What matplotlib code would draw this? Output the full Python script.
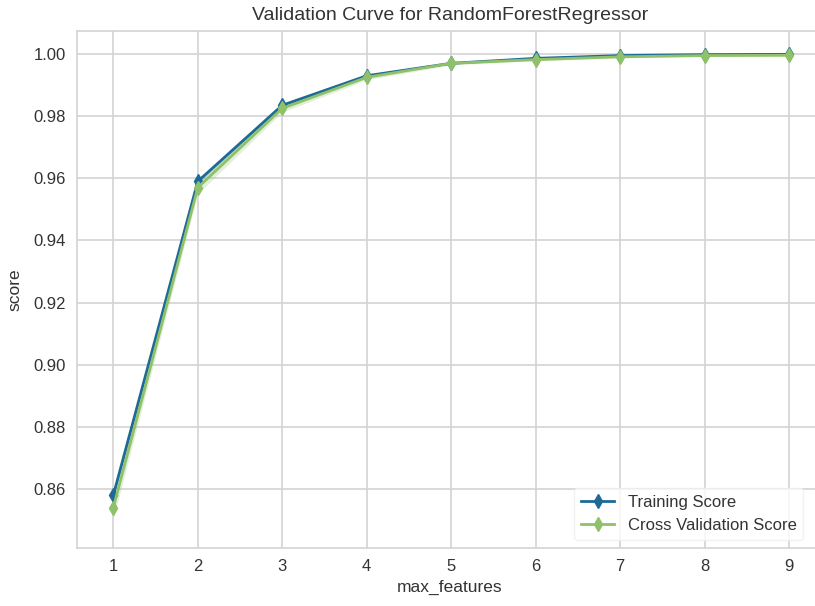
import matplotlib
matplotlib.use("Agg")
import matplotlib.pyplot as plt
import numpy as np

plt.rcParams['font.family'] = ['Liberation Sans', 'DejaVu Sans']

max_features = [1, 2, 3, 4, 5, 6, 7, 8, 9]
train_mean = [0.858, 0.959, 0.9835, 0.9930, 0.9970, 0.9986, 0.9995, 0.9998, 0.9999]
train_std = [0.0015, 0.0008, 0.0005, 0.0003, 0.0002, 0.0001, 0.0001, 0.0001, 0.0001]
cv_mean = [0.854, 0.957, 0.9825, 0.9925, 0.9970, 0.9982, 0.9991, 0.9995, 0.9996]
cv_std = [0.0035, 0.0020, 0.0012, 0.0008, 0.0005, 0.0004, 0.0003, 0.0002, 0.0002]

train_color = "#1d6a96"
cv_color = "#8fc06a"
grid_color = "#d3d3d3"

fig = plt.figure(figsize=(8.15, 6.06), dpi=100)
ax = fig.add_axes([0.0945, 0.0957, 0.915, 0.8531])

x = np.array(max_features)
tm, ts = np.array(train_mean), np.array(train_std)
cm, cs = np.array(cv_mean), np.array(cv_std)

ax.fill_between(x, tm - ts, tm + ts, color=train_color, alpha=0.25, lw=0)
ax.fill_between(x, cm - cs, cm + cs, color=cv_color, alpha=0.25, lw=0)
ax.plot(x, tm, marker="d", color=train_color, lw=2, ms=7, label="Training Score")
ax.plot(x, cm, marker="d", color=cv_color, lw=2, ms=7, label="Cross Validation Score")

ax.set_xlim(0.57, 9.4)
ax.set_ylim(0.841, 1.0074)
ax.set_xticks(max_features)
ax.set_yticks(np.arange(0.86, 1.001, 0.02))
ax.yaxis.set_major_formatter(matplotlib.ticker.FormatStrFormatter('%.2f'))

ax.grid(True, color=grid_color, lw=1.2)
ax.set_axisbelow(True)
for s in ax.spines.values():
    s.set_color(grid_color)
    s.set_linewidth(1.2)
ax.tick_params(length=0, labelsize=12, colors="#333333", pad=8)

ax.set_title("Validation Curve for RandomForestRegressor", fontsize=14, color="#333333", pad=8)
ax.set_xlabel("max_features", fontsize=12.5, color="#333333", labelpad=4)
ax.set_ylabel("score", fontsize=12.5, color="#333333", labelpad=8)

leg = ax.legend(loc="lower right", bbox_to_anchor=(0.985, 0.0), fontsize=12,
                frameon=True, framealpha=0.8, edgecolor="#eeeeee")
for t in leg.get_texts():
    t.set_color("#333333")

fig.savefig("out.png", dpi=100)
